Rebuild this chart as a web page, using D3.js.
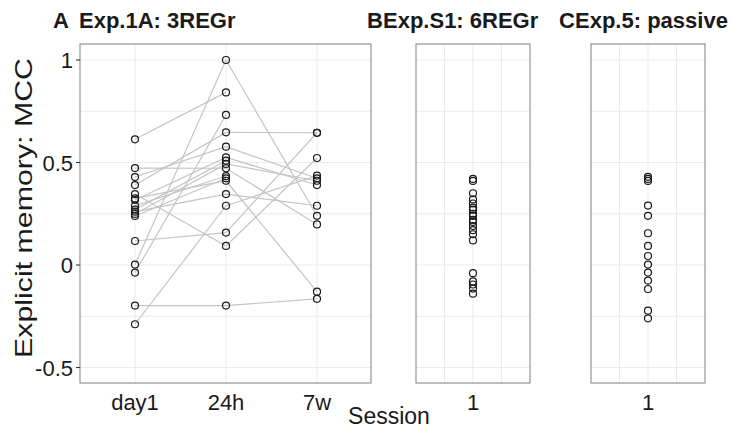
<!DOCTYPE html>
<html>
<head>
<meta charset="utf-8">
<script src="https://cdnjs.cloudflare.com/ajax/libs/d3/7.8.5/d3.min.js"></script>
<style>
  body { margin: 0; background: #fff; }
  text { font-family: "Liberation Sans", Arial, sans-serif; fill: #1a1a1a; }
</style>
</head>
<body>
<script>
// panel A: one row per participant, sessions day1 / 24h / 7w
const sessions = ['day1', '24h', '7w']
const day1 = [0.613, 0.473, 0.429, 0.390, 0.346, 0.325, 0.317, 0.289, 0.270, 0.260, 0.249, 0.239, 0.117, 0.002, -0.037, -0.198, -0.289]
const h24 = [0.842, 0.472, 0.577, 0.647, 0.093, 0.411, 0.525, 0.434, 0.509, 0.346, 0.493, 0.423, 0.158, 1.000, 0.732, -0.198, 0.289]
const w7 = [null, 0.198, 0.423, 0.645, 0.522, -0.130, 0.390, null, null, 0.289, 0.411, null, 0.645, 0.240, null, -0.165, 0.436]

// panels B and C: single session
const expS1 = [0.42, 0.41, 0.35, 0.32, 0.30, 0.28, 0.27, 0.25, 0.24, 0.22, 0.21, 0.19, 0.17, 0.15, 0.12, -0.04, -0.08, -0.095, -0.115, -0.14]
const exp5 = [0.43, 0.42, 0.41, 0.29, 0.24, 0.155, 0.093, 0.044, 0.002, -0.037, -0.076, -0.117, -0.223, -0.26]

const yTicks = [-0.5, 0, 0.5, 1]
const yGrid = [-0.5, -0.25, 0, 0.25, 0.5, 0.75, 1]
const yTickLabels = ['-0.5', '0', '0.5', '1']

const panelTop = 44, panelBottom = 383
const panels = [
  {x0: 80, x1: 371, tag: 'A', tagX: 53, title: 'Exp.1A: 3REGr', titleX: 79},
  {x0: 416, x1: 530, tag: 'B', tagX: 367, title: 'Exp.S1: 6REGr', titleX: 383},
  {x0: 591, x1: 705, tag: 'C', tagX: 559, title: 'Exp.5: passive', titleX: 575}
]

let svg = d3.select('body')
  .append('svg')
  .attr('width', 733)
  .attr('height', 430)

let yScale = d3.scaleLinear().domain([-0.5, 1]).range([367.5, 60])
let xA = d3.scalePoint().domain(sessions).range([135, 317])
let xB = d3.scaleLinear().domain([0.95, 1.05]).range([panels[1].x0, panels[1].x1])
let xC = d3.scaleLinear().domain([0.95, 1.05]).range([panels[2].x0, panels[2].x1])

//grids
panels.forEach((p, i) => {
  let g = svg.append('g')
  g.selectAll('.hg')
    .data(yGrid)
    .enter()
    .append('line')
    .attr('x1', p.x0).attr('x2', p.x1)
    .attr('y1', d => yScale(d)).attr('y2', d => yScale(d))
    .attr('stroke', '#ebebeb')
    .attr('stroke-width', 1)
  let vx = i == 0 ? sessions.map(s => xA(s)) : [0.975, 1, 1.025].map(v => (i == 1 ? xB : xC)(v))
  g.selectAll('.vg')
    .data(vx)
    .enter()
    .append('line')
    .attr('x1', d => d).attr('x2', d => d)
    .attr('y1', panelTop).attr('y2', panelBottom)
    .attr('stroke', '#ebebeb')
    .attr('stroke-width', 1)
})

//lines per participant
let rows = day1.map((d, i) => [day1[i], h24[i], w7[i]])
let line = d3.line()
  .defined(d => d[1] != null)
  .x(d => xA(d[0]))
  .y(d => yScale(d[1]))

svg.append('g')
  .selectAll('path')
  .data(rows)
  .enter()
  .append('path')
  .attr('d', r => line(r.map((v, j) => [sessions[j], v])))
  .attr('fill', 'none')
  .attr('stroke', '#c4c4c4')
  .attr('stroke-width', 1.2)

//points
let ptsA = []
rows.forEach(r => r.forEach((v, j) => { if (v != null) ptsA.push({s: sessions[j], v: v}) }))

function drawPoints(data, xf) {
  svg.append('g')
    .selectAll('circle')
    .data(data)
    .enter()
    .append('circle')
    .attr('cx', xf)
    .attr('cy', d => yScale(d.v))
    .attr('r', 3.5)
    .attr('fill', 'none')
    .attr('stroke', '#1a1a1a')
    .attr('stroke-width', 1.2)
}
drawPoints(ptsA, d => xA(d.s))
drawPoints(expS1.map(v => ({v: v})), d => xB(1))
drawPoints(exp5.map(v => ({v: v})), d => xC(1))

//borders + titles
panels.forEach(p => {
  svg.append('rect')
    .attr('x', p.x0).attr('y', panelTop)
    .attr('width', p.x1 - p.x0).attr('height', panelBottom - panelTop)
    .attr('fill', 'none')
    .attr('stroke', '#8a8a8a')
    .attr('stroke-width', 1.1)
  svg.append('text')
    .attr('x', p.tagX).attr('y', 28)
    .style('font-size', '22px').style('font-weight', 'bold')
    .text(p.tag)
  svg.append('text')
    .attr('x', p.titleX).attr('y', 28)
    .style('font-size', '22px').style('font-weight', 'bold')
    .text(p.title)
})

//y axis
svg.append('g')
  .selectAll('line')
  .data(yTicks)
  .enter()
  .append('line')
  .attr('x1', 76).attr('x2', 80)
  .attr('y1', d => yScale(d)).attr('y2', d => yScale(d))
  .attr('stroke', '#333')
  .attr('stroke-width', 1.1)

svg.append('g')
  .selectAll('text')
  .data(yTicks)
  .enter()
  .append('text')
  .attr('x', 73)
  .attr('y', d => yScale(d) + 8)
  .attr('text-anchor', 'end')
  .style('font-size', '22px')
  .text((d, i) => yTickLabels[i])

//x tick labels
svg.append('g')
  .selectAll('text')
  .data(sessions)
  .enter()
  .append('text')
  .attr('x', d => xA(d))
  .attr('y', 410)
  .attr('text-anchor', 'middle')
  .style('font-size', '22px')
  .text(d => d)

svg.append('text').attr('x', xB(1)).attr('y', 410).attr('text-anchor', 'middle').style('font-size', '22px').text('1')
svg.append('text').attr('x', xC(1)).attr('y', 410).attr('text-anchor', 'middle').style('font-size', '22px').text('1')

//axis titles
svg.append('text')
  .attr('x', 389)
  .attr('y', 424)
  .attr('text-anchor', 'middle')
  .style('font-size', '23px')
  .text('Session')

svg.append('text')
  .attr('transform', 'translate(32,208) rotate(-90)')
  .attr('text-anchor', 'middle')
  .attr('textLength', 300)
  .attr('lengthAdjust', 'spacingAndGlyphs')
  .style('font-size', '24px')
  .text('Explicit memory: MCC')
</script>
</body>
</html>
